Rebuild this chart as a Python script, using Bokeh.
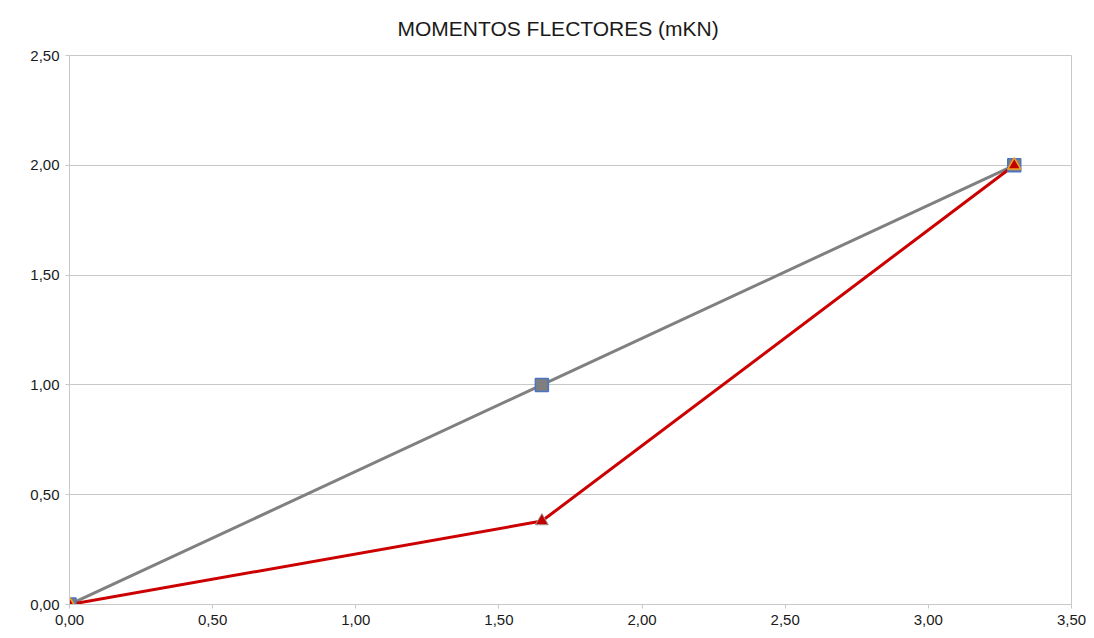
from bokeh.plotting import figure
from bokeh.models import CustomJSTickFormatter, FixedTicker, Range1d
from bokeh.embed import file_html
from bokeh.resources import INLINE

x_vals = [0.0, 1.65, 3.3]
series_gray = [0.0, 1.0, 2.0]
series_red = [0.0, 0.38, 2.0]
x_ticks = [0.0, 0.5, 1.0, 1.5, 2.0, 2.5, 3.0, 3.5]
y_ticks = [0.0, 0.5, 1.0, 1.5, 2.0, 2.5]

p = figure(width=1086, height=630, output_backend="svg", toolbar_location=None,
           x_range=Range1d(0, 3.5), y_range=Range1d(0, 2.5),
           min_border_left=69, min_border_right=15, min_border_top=55, min_border_bottom=26)

p.title.text = "MOMENTOS FLECTORES (mKN)"
p.title.align = "left"
p.title.vertical_align = "top"
p.title.text_font = "Liberation Sans"
p.title.text_font_size = "21px"
p.title.text_font_style = "normal"
p.title.text_color = "#1a1a1a"
p.title.standoff = 28
p.title.offset = 328

fmt = CustomJSTickFormatter(code="return tick.toFixed(2).replace('.', ',');")
for ax in (p.xaxis, p.yaxis):
    ax.formatter = fmt
    ax.major_label_text_font = "Liberation Sans"
    ax.major_label_text_font_size = "15px"
    ax.major_label_text_color = "#1a1a1a"
    ax.axis_line_color = "#c8c8c8"
    ax.major_tick_line_color = "#c8c8c8"
    ax.major_tick_in = 0
    ax.major_tick_out = 4
    ax.minor_tick_line_color = None
    ax.major_label_standoff = 6
p.xaxis.ticker = FixedTicker(ticks=x_ticks)
p.yaxis.ticker = FixedTicker(ticks=y_ticks)

p.xgrid.grid_line_color = None
p.ygrid.grid_line_color = "#c8c8c8"
p.outline_line_color = "#c8c8c8"
p.background_fill_color = "white"
p.border_fill_color = "white"

p.line(x_vals, series_gray, line_color="#808080", line_width=3)
p.line(x_vals, series_red, line_color="#cc0000", line_width=3)
p.scatter(x_vals, series_gray, marker="square", size=13, fill_color="#7f7f7f",
          line_color="#4a74c4", line_width=1.5)
p.scatter(x_vals, series_red, marker="triangle", size=13, fill_color="#c00000",
          line_color="#a0a0a0", line_width=1)
p.scatter([x_vals[0], x_vals[2]], [series_red[0], series_red[2]], marker="triangle", size=13,
          fill_color="#c00000", line_color="#f0a020", line_width=1.5)

open("out.html", "w").write(file_html(p, INLINE))
